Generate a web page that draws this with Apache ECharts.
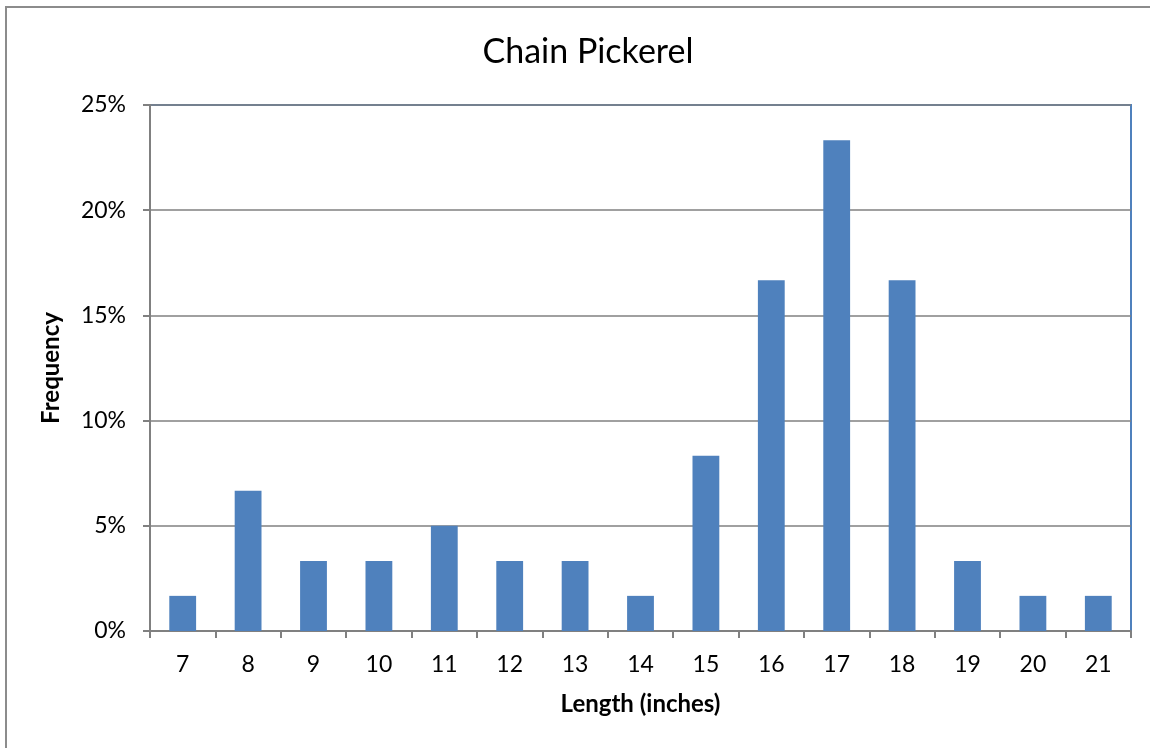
<!DOCTYPE html>
<html>
<head>
<meta charset="utf-8">
<script src="https://cdn.jsdelivr.net/npm/echarts@6/dist/echarts.min.js"></script>
<style>
  html, body { margin: 0; padding: 0; background: #fff; }
  #chart { width: 1150px; height: 748px; }
</style>
</head>
<body>
<div id="chart"></div>
<script>
// Length classes (inches) and share of fish in each class
const lengths = ['7', '8', '9', '10', '11', '12', '13', '14', '15', '16', '17', '18', '19', '20', '21'];
const frequency = [0.0167, 0.0667, 0.0333, 0.0333, 0.05, 0.0333, 0.0333, 0.0167, 0.0833, 0.1667, 0.2333, 0.1667, 0.0333, 0.0167, 0.0167];
const yTicks = [0, 0.05, 0.1, 0.15, 0.2, 0.25];

const font = 'Lato, "Open Sans", "Liberation Sans", sans-serif';
const chart = echarts.init(document.getElementById('chart'), null, { renderer: 'canvas' });

chart.setOption({
  animation: false,
  backgroundColor: '#fff',
  textStyle: { fontFamily: font },
  graphic: [{
    type: 'rect',
    shape: { x: 6, y: 7, width: 1200, height: 800 },
    style: { fill: 'none', stroke: '#8c8c8c', lineWidth: 2 },
    z: 0
  }],
  title: {
    text: 'Chain Pickerel',
    left: 583, top: 30, textAlign: 'center',
    textStyle: { fontFamily: font, fontSize: 34, fontWeight: 'normal', color: '#000' }
  },
  grid: {
    left: 150, right: 19, top: 105, bottom: 117,
    show: true, borderColor: '#4f81bd', borderWidth: 2, backgroundColor: 'transparent'
  },
  xAxis: {
    type: 'category',
    data: lengths,
    name: 'Length (inches)',
    nameLocation: 'middle',
    nameGap: 61,
    nameTextStyle: { fontFamily: font, fontSize: 24, fontWeight: 'bold', color: '#000' },
    axisLine: { lineStyle: { color: '#808080', width: 2 } },
    axisTick: { show: true, length: 7, interval: 0, lineStyle: { color: '#808080', width: 2 } },
    axisLabel: { fontFamily: font, fontSize: 23, color: '#000', margin: 22, interval: 0 }
  },
  yAxis: {
    type: 'value',
    min: yTicks[0], max: yTicks[yTicks.length - 1], interval: 0.05,
    name: 'Frequency',
    nameLocation: 'middle',
    nameGap: 87,
    nameTextStyle: { fontFamily: font, fontSize: 24, fontWeight: 'bold', color: '#000' },
    axisLine: { show: true, lineStyle: { color: '#808080', width: 2 } },
    axisTick: { show: true, length: 7, lineStyle: { color: '#808080', width: 2 } },
    axisLabel: {
      fontFamily: font, fontSize: 23, color: '#000', margin: 24,
      formatter: v => Math.round(v * 100) + '%'
    },
    splitLine: { show: true, lineStyle: { color: '#808080', width: 1.5 } }
  },
  series: [{
    type: 'bar',
    data: frequency,
    barWidth: '41%',
    itemStyle: { color: '#4f81bd' }
  }]
});
</script>
</body>
</html>
